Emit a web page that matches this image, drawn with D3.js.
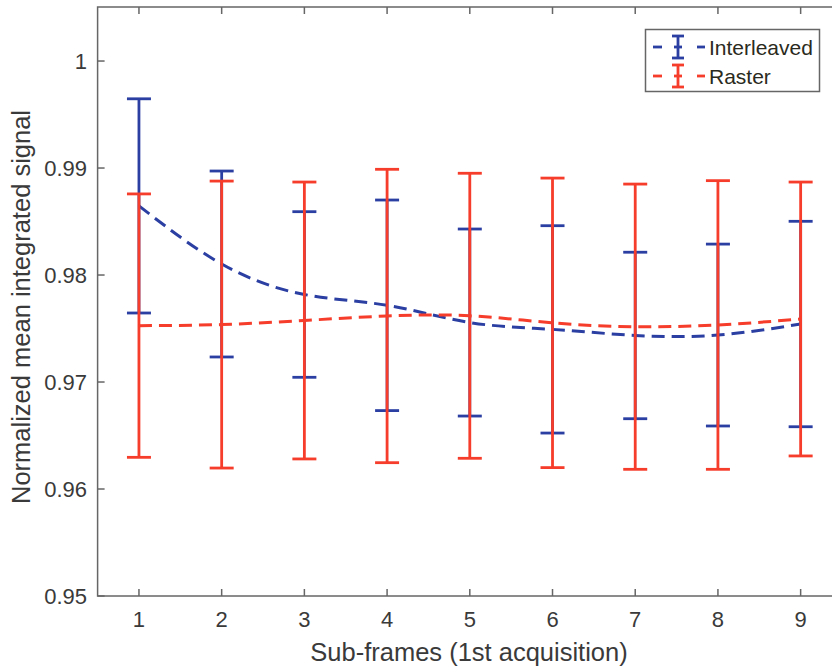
<!DOCTYPE html>
<html lang="en">
<head>
    <meta charset="UTF-8">
    <title>Normalized mean integrated signal</title>
    <script src="https://d3js.org/d3.v7.min.js"></script>
    <style>
        body {
            margin: 0;
            padding: 0;
            background: white;
        }

        text {
            font-family: "Liberation Sans", Arial, sans-serif;
        }
    </style>
</head>
<body>
    <div id='main'></div>

    <script>
        // sub-frame index
        var frames = [1, 2, 3, 4, 5, 6, 7, 8, 9];

        // Interleaved: mean and half error bar
        var interMean = [0.98646, 0.98103, 0.97818, 0.97717, 0.97556, 0.97492, 0.97435, 0.97439, 0.97542];
        var interErr = [0.01001, 0.00869, 0.00774, 0.00984, 0.00874, 0.00969, 0.00778, 0.00850, 0.00960];

        // Raster: mean and half error bar
        var rastMean = [0.97527, 0.97537, 0.97575, 0.97617, 0.97619, 0.97553, 0.97517, 0.97533, 0.97589];
        var rastErr = [0.01231, 0.01341, 0.01294, 0.01371, 0.01332, 0.01353, 0.01333, 0.01349, 0.01280];

        var yTicks = [0.95, 0.96, 0.97, 0.98, 0.99, 1];
        var seriesNames = ['Interleaved', 'Raster'];
        var colors = ['#2b3fa3', '#f63c2a'];

        var width = 832;
        var height = 668;

        var x = d3.scaleLinear().domain([0.5, 9.5]).range([97.6, 842]);
        var y = d3.scaleLinear().domain([0.95, 1.00505]).range([596, 7]);

        var svg = d3.select('#main')
            .append('svg')
            .attr('width', width)
            .attr('height', height);

        var axisColor = '#666';
        var textColor = '#3a3a3a';

        // box
        svg.append('rect')
            .attr('x', x(0.5))
            .attr('y', y(1.00505))
            .attr('width', x(9.5) - x(0.5))
            .attr('height', y(0.95) - y(1.00505))
            .attr('fill', 'none')
            .attr('stroke', axisColor)
            .attr('stroke-width', 1.5);

        // x ticks bottom and top, inward
        frames.forEach(function(f) {
            svg.append('line')
                .attr('x1', x(f)).attr('x2', x(f))
                .attr('y1', y(0.95)).attr('y2', y(0.95) - 7)
                .attr('stroke', axisColor).attr('stroke-width', 1.5);
            svg.append('line')
                .attr('x1', x(f)).attr('x2', x(f))
                .attr('y1', y(1.00505)).attr('y2', y(1.00505) + 7)
                .attr('stroke', axisColor).attr('stroke-width', 1.5);
            svg.append('text')
                .attr('x', x(f))
                .attr('y', 627)
                .attr('text-anchor', 'middle')
                .attr('font-size', 22)
                .attr('fill', textColor)
                .text(f);
        });

        yTicks.forEach(function(t) {
            svg.append('line')
                .attr('x1', x(0.5)).attr('x2', x(0.5) + 7)
                .attr('y1', y(t)).attr('y2', y(t))
                .attr('stroke', axisColor).attr('stroke-width', 1.5);
            svg.append('text')
                .attr('x', 87)
                .attr('y', y(t))
                .attr('dy', '0.36em')
                .attr('text-anchor', 'end')
                .attr('font-size', 22)
                .attr('fill', textColor)
                .text(d3.format('')(t));
        });

        svg.append('text')
            .attr('x', 469)
            .attr('y', 661)
            .attr('text-anchor', 'middle')
            .attr('font-size', 25.5)
            .attr('fill', textColor)
            .text('Sub-frames (1st acquisition)');

        svg.append('text')
            .attr('transform', 'translate(30,' + 307 + ') rotate(-90)')
            .attr('text-anchor', 'middle')
            .attr('font-size', 25.5)
            .attr('fill', textColor)
            .text('Normalized mean integrated signal');

        var line = d3.line()
            .x(function(d, i) { return x(frames[i]); })
            .y(function(d) { return y(d); })
            .curve(d3.curveNatural);

        function drawBars(means, errs, color) {
            var capW = 12;
            means.forEach(function(m, i) {
                var cx = x(frames[i]);
                var g = svg.append('g')
                    .attr('stroke', color)
                    .attr('stroke-width', 2.8);
                g.append('line')
                    .attr('x1', cx).attr('x2', cx)
                    .attr('y1', y(m + errs[i])).attr('y2', y(m - errs[i]));
                g.append('line')
                    .attr('x1', cx - capW).attr('x2', cx + capW)
                    .attr('y1', y(m + errs[i])).attr('y2', y(m + errs[i]));
                g.append('line')
                    .attr('x1', cx - capW).attr('x2', cx + capW)
                    .attr('y1', y(m - errs[i])).attr('y2', y(m - errs[i]));
            });
        }

        drawBars(interMean, interErr, colors[0]);
        svg.append('path')
            .datum(interMean)
            .attr('d', line)
            .attr('fill', 'none')
            .attr('stroke', colors[0])
            .attr('stroke-width', 3)
            .attr('stroke-dasharray', '13,7');

        drawBars(rastMean, rastErr, colors[1]);
        svg.append('path')
            .datum(rastMean)
            .attr('d', line)
            .attr('fill', 'none')
            .attr('stroke', colors[1])
            .attr('stroke-width', 3)
            .attr('stroke-dasharray', '13,7');

        // legend
        var leg = svg.append('g');
        leg.append('rect')
            .attr('x', 645.5).attr('y', 29.5)
            .attr('width', 174).attr('height', 62)
            .attr('fill', 'white')
            .attr('stroke', axisColor)
            .attr('stroke-width', 1.5);

        seriesNames.forEach(function(name, i) {
            var ly = 47 + i * 29;
            var g = leg.append('g').attr('stroke', colors[i]).attr('stroke-width', 2.8);
            g.append('line').attr('x1', 653).attr('x2', 662).attr('y1', ly).attr('y2', ly);
            g.append('line').attr('x1', 697).attr('x2', 705).attr('y1', ly).attr('y2', ly);
            g.append('line').attr('x1', 678).attr('x2', 678).attr('y1', ly - 11).attr('y2', ly + 11);
            g.append('line').attr('x1', 672).attr('x2', 684).attr('y1', ly - 11).attr('y2', ly - 11);
            g.append('line').attr('x1', 672).attr('x2', 684).attr('y1', ly + 11).attr('y2', ly + 11);
            g.append('line').attr('x1', 674).attr('x2', 682).attr('y1', ly).attr('y2', ly);
            leg.append('text')
                .attr('x', 709)
                .attr('y', ly)
                .attr('dy', '0.36em')
                .attr('font-size', 21)
                .attr('fill', '#2a2a20')
                .text(name);
        });
    </script>
</body>
</html>
